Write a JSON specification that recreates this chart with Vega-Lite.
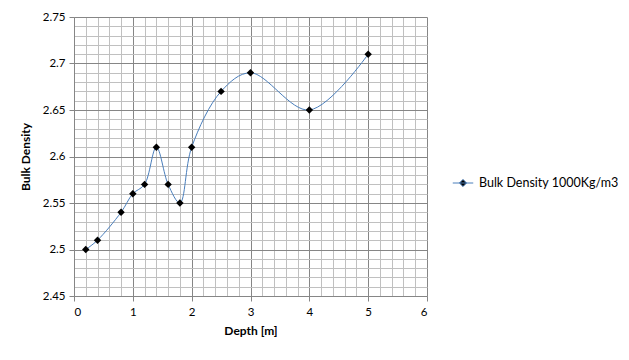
{
  "$schema": "https://vega.github.io/schema/vega-lite/v6.json",
  "width": 353,
  "height": 279,
  "autosize": {"type": "none"},
  "padding": {"left": 74, "top": 17, "right": 202, "bottom": 64},
  "background": "white",
  "config": {
    "font": "Lato",
    "view": {"stroke": null},
    "axis": {"labelFont": "Lato", "titleFont": "Lato", "labelFontSize": 11.5, "labelColor": "#000", "titleColor": "#000", "titleFontSize": 12, "titleFontWeight": "bold"}
  },
  "data": {
    "values": [
      {"depth": 0.2, "density": 2.50, "series": "Bulk Density 1000Kg/m3"},
      {"depth": 0.4, "density": 2.51, "series": "Bulk Density 1000Kg/m3"},
      {"depth": 0.8, "density": 2.54, "series": "Bulk Density 1000Kg/m3"},
      {"depth": 1.0, "density": 2.56, "series": "Bulk Density 1000Kg/m3"},
      {"depth": 1.2, "density": 2.57, "series": "Bulk Density 1000Kg/m3"},
      {"depth": 1.4, "density": 2.61, "series": "Bulk Density 1000Kg/m3"},
      {"depth": 1.6, "density": 2.57, "series": "Bulk Density 1000Kg/m3"},
      {"depth": 1.8, "density": 2.55, "series": "Bulk Density 1000Kg/m3"},
      {"depth": 2.0, "density": 2.61, "series": "Bulk Density 1000Kg/m3"},
      {"depth": 2.5, "density": 2.67, "series": "Bulk Density 1000Kg/m3"},
      {"depth": 3.0, "density": 2.69, "series": "Bulk Density 1000Kg/m3"},
      {"depth": 4.0, "density": 2.65, "series": "Bulk Density 1000Kg/m3"},
      {"depth": 5.0, "density": 2.71, "series": "Bulk Density 1000Kg/m3"}
    ]
  },
  "resolve": {"axis": {"x": "independent", "y": "independent"}},
  "layer": [
    {
      "mark": {"type": "point", "opacity": 0},
      "encoding": {
        "x": {"field": "depth", "type": "quantitative", "scale": {"domain": [0, 6], "nice": false},
          "axis": {"orient": "bottom", "values": [0.2,0.4,0.6,0.8,1.2,1.4,1.6,1.8,2.2,2.4,2.6,2.8,3.2,3.4,3.6,3.8,4.2,4.4,4.6,4.8,5.2,5.4,5.6,5.8], "labels": false, "ticks": false, "domain": false, "title": null, "grid": true, "gridColor": "#c0c0c0", "gridWidth": 1, "gridOpacity": 1}},
        "y": {"field": "density", "type": "quantitative", "scale": {"domain": [2.45, 2.75], "nice": false, "zero": false},
          "axis": {"orient": "left", "values": [2.46,2.47,2.48,2.49,2.51,2.52,2.53,2.54,2.56,2.57,2.58,2.59,2.61,2.62,2.63,2.64,2.66,2.67,2.68,2.69,2.71,2.72,2.73,2.74], "labels": false, "ticks": false, "domain": false, "title": null, "grid": true, "gridColor": "#c0c0c0", "gridWidth": 1, "gridOpacity": 1}}
      }
    },
    {
      "mark": {"type": "line", "interpolate": "catmull-rom", "strokeWidth": 1},
      "encoding": {
        "x": {"field": "depth", "type": "quantitative", "scale": {"domain": [0, 6], "nice": false},
          "axis": {"orient": "bottom", "values": [0,1,2,3,4,5,6], "grid": true, "gridColor": "#868686", "gridOpacity": 1, "domainColor": "#868686", "tickColor": "#868686", "tickSize": 5, "labelPadding": 5, "title": "Depth [m]", "titlePadding": 8, "format": "d"}},
        "y": {"field": "density", "type": "quantitative", "scale": {"domain": [2.45, 2.75], "nice": false, "zero": false},
          "axis": {"orient": "left", "values": [2.45,2.5,2.55,2.6,2.65,2.7,2.75], "grid": true, "gridColor": "#868686", "gridOpacity": 1, "domainColor": "#868686", "tickColor": "#868686", "tickSize": 5, "labelPadding": 4, "title": "Bulk Density", "titlePadding": 10, "format": "~g"}},
        "color": {"field": "series", "type": "nominal", "scale": {"range": ["#4a7ebb"]},
          "legend": {"title": null, "orient": "none", "legendX": 378, "legendY": 155, "symbolType": "M-1,0L1,0M0,-0.35L0.35,0L0,0.35L-0.35,0Z", "symbolSize": 420, "symbolStrokeWidth": 1, "symbolFillColor": "#000", "labelFont": "Lato", "labelFontSize": 12.5, "labelColor": "#000", "labelOffset": 5}}
      }
    },
    {
      "mark": {"type": "point", "shape": "diamond", "filled": true, "color": "#000", "size": 55, "opacity": 1},
      "encoding": {
        "x": {"field": "depth", "type": "quantitative", "scale": {"domain": [0, 6], "nice": false}, "axis": null},
        "y": {"field": "density", "type": "quantitative", "scale": {"domain": [2.45, 2.75], "nice": false, "zero": false}, "axis": null}
      }
    }
  ]
}
